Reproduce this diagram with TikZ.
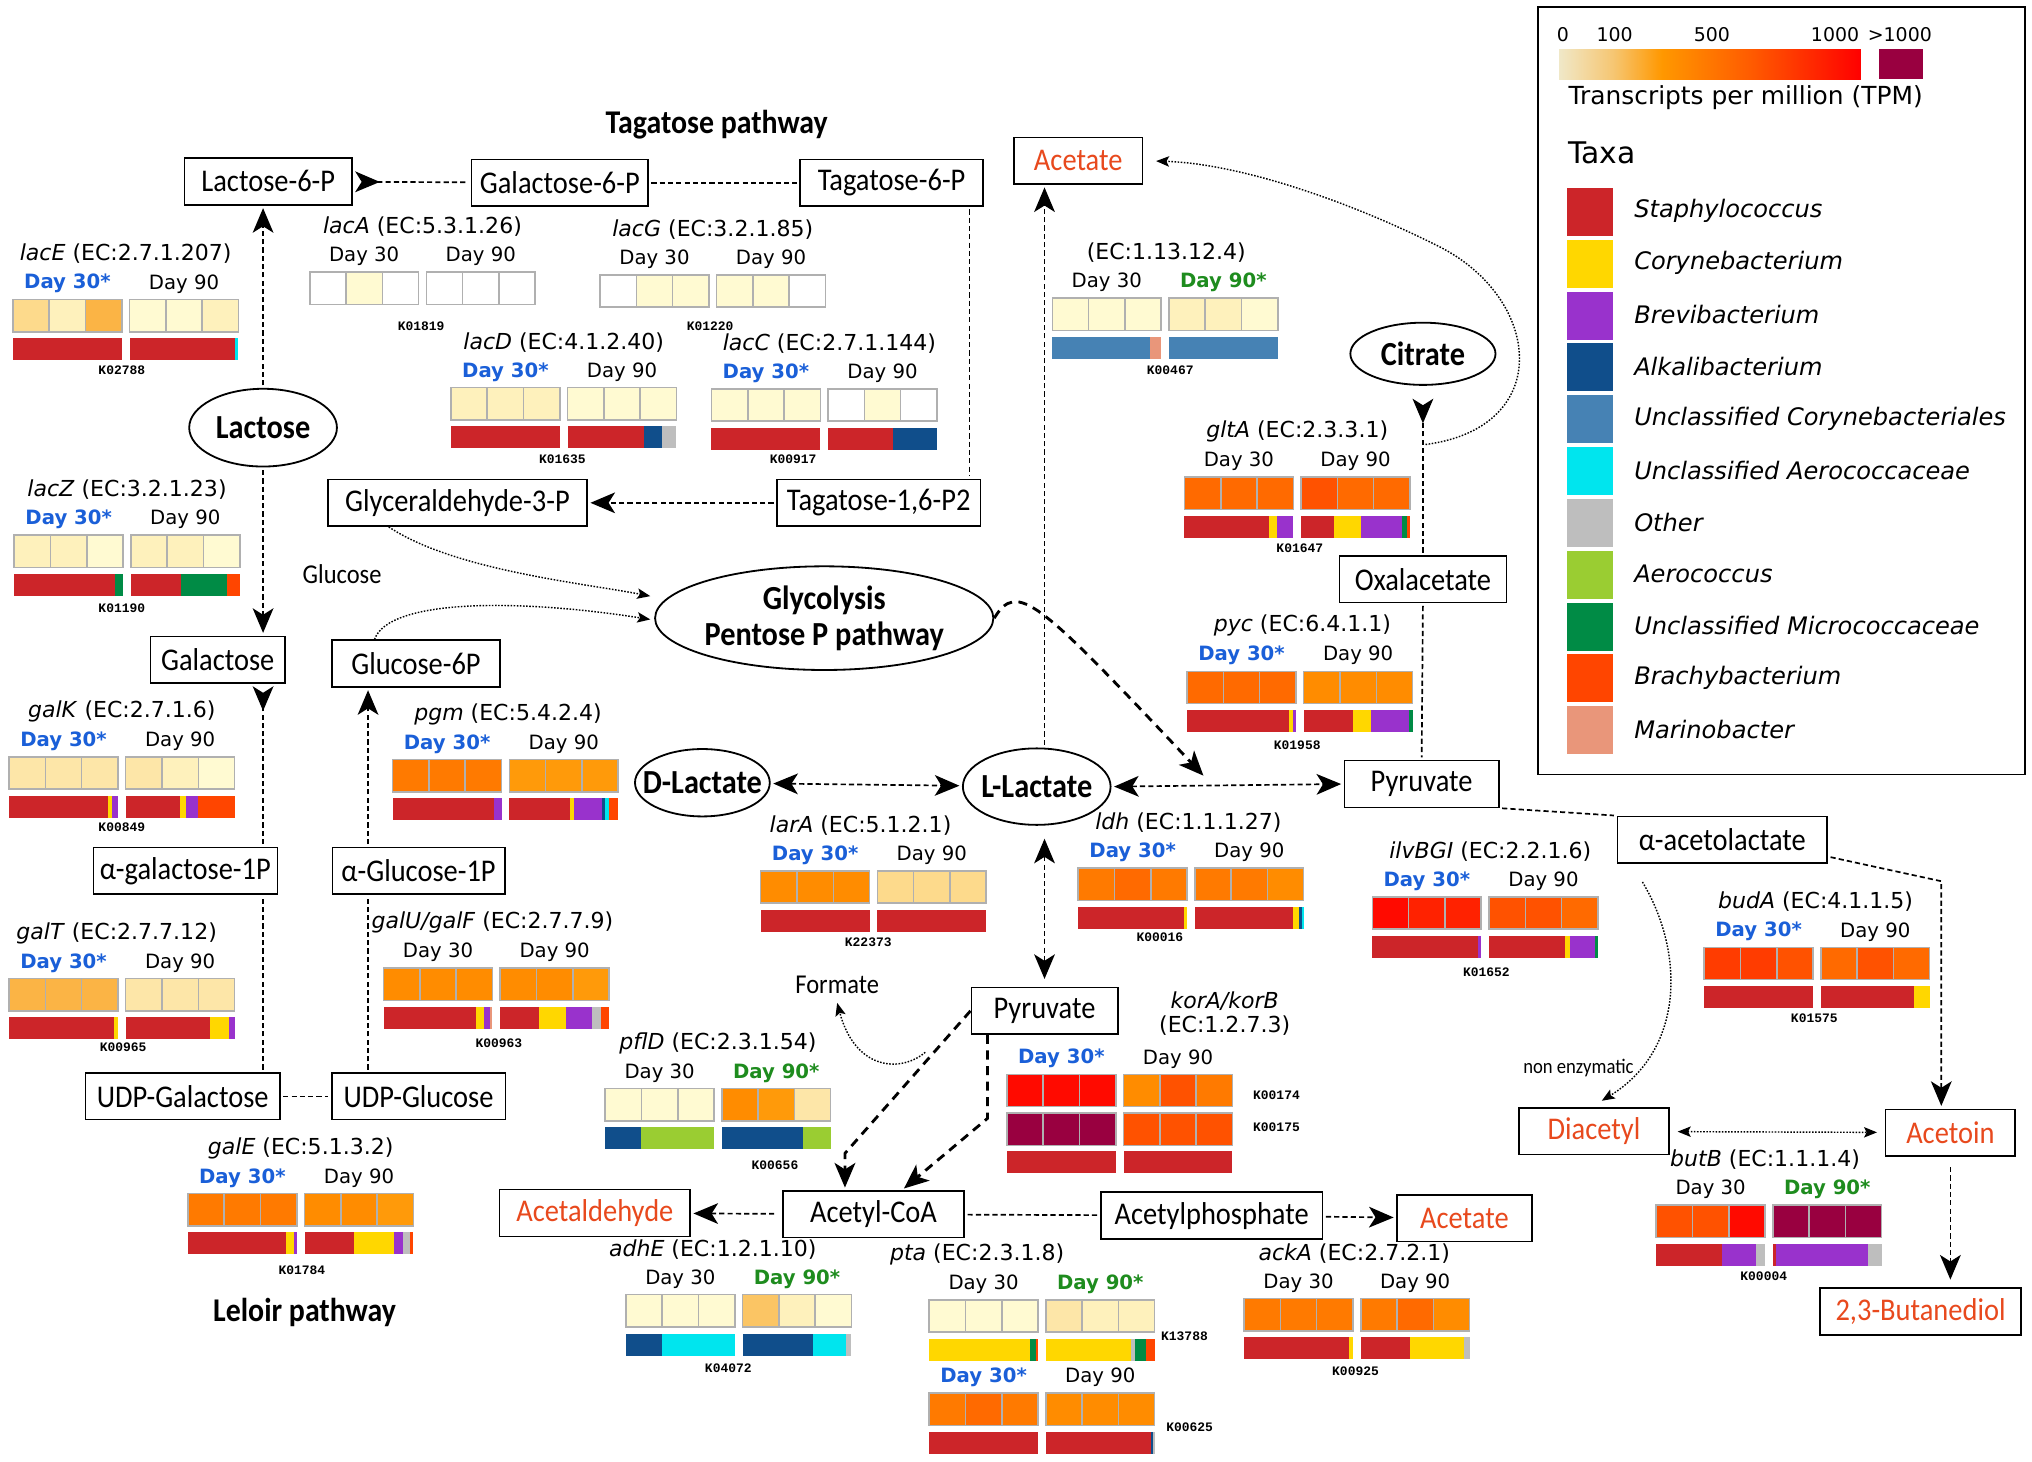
\documentclass[tikz,border=0pt]{standalone}
\usepackage{fontspec}
\setmainfont{DejaVu Sans}
\newfontfamily\boxfont{Carlito}[FakeStretch=0.9]
\newfontfamily\kfont{Liberation Mono}
\usetikzlibrary{arrows.meta,shapes.geometric,calc}

% taxa colours
\definecolor{st}{HTML}{CC2529}
\definecolor{co}{HTML}{FFD700}
\definecolor{br}{HTML}{9932CC}
\definecolor{al}{HTML}{104E8B}
\definecolor{uc}{HTML}{4682B4}
\definecolor{ua}{HTML}{00E5EE}
\definecolor{ot}{HTML}{BEBEBE}
\definecolor{ae}{HTML}{9ACD32}
\definecolor{um}{HTML}{008B45}
\definecolor{bb}{HTML}{FF4500}
\definecolor{ma}{HTML}{E9967A}
% TPM colours
\definecolor{h0}{HTML}{FFFFFF}
\definecolor{h1}{HTML}{FFFAD2}
\definecolor{h2}{HTML}{FEF1BC}
\definecolor{h3}{HTML}{FDE6A8}
\definecolor{h4}{HTML}{FDDA8C}
\definecolor{h5}{HTML}{FBC564}
\definecolor{h6}{HTML}{FBB445}
\definecolor{h7}{HTML}{FF9A0A}
\definecolor{h8}{HTML}{FF8C00}
\definecolor{h9}{HTML}{FF7A00}
\definecolor{h10}{HTML}{FF6A00}
\definecolor{h11}{HTML}{FF5200}
\definecolor{h12}{HTML}{FF3C00}
\definecolor{h13}{HTML}{FF2200}
\definecolor{h14}{HTML}{FF0A00}
\definecolor{hx}{HTML}{990040}
\definecolor{cellgray}{HTML}{B0B0B0}
\definecolor{prodred}{HTML}{E8491D}
\definecolor{sigblue}{HTML}{1A5FD8}
\definecolor{siggreen}{HTML}{1E8C1E}
\definecolor{sc0}{HTML}{F0E8C8}
\definecolor{sc1}{HTML}{F6C672}
\definecolor{sc2}{HTML}{FF9800}
\definecolor{sc3}{HTML}{FF5A00}
\definecolor{sc4}{HTML}{FF0000}
\pgfdeclarehorizontalshading{tpm}{100bp}{color(0bp)=(sc0); color(25bp)=(sc0); color(34bp)=(sc1); color(42bp)=(sc2); color(57bp)=(sc3); color(75bp)=(sc4); color(100bp)=(sc4)}

\tikzset{
  arr/.tip={Stealth[length=9.5pt,width=8pt,inset=2.5pt]},
  rarr/.tip={Stealth[length=9.5pt,width=8pt,inset=2.5pt,reversed]},
  sarr/.tip={Stealth[length=5pt,width=4pt,inset=1pt]}
}

% six TPM cells, two groups of three
\newcommand{\heatrow}[3]{%
  \foreach \hc [count=\hi from 0] in {#3}{%
    \pgfmathsetmacro{\cx}{#1+\hi*28+(\hi>2)*6}%
    \filldraw[fill=\hc, draw=cellgray, line width=0.6pt] (\cx,#2) rectangle ++(28,25);
  }%
}
% one taxa bar, segments as colour/cumulative end
\newcommand{\taxbar}[3]{%
  \foreach \tc/\te [remember=\te as \ts (initially 0)] in {#3}{%
    \fill[\tc] ({#1+\ts*84},#2) rectangle ({#1+\te*84},#2+17);
  }%
}
\newcommand{\gbars}[4]{\taxbar{#1}{#2}{#3}\taxbar{#1+90}{#2}{#4}}
% gene title and day labels
\newcommand{\genehead}[6]{%
  \node[eclabel] (#3-ec) at (#5,#2-35) {#6};
  \ifnum#4=30 \node[sigblue] (#3-d30) at (#1+42,#2-12) {Day 30*};
  \else \node[daylabel] (#3-d30) at (#1+42,#2-12) {Day 30}; \fi
  \ifnum#4=90 \node[siggreen] (#3-d90) at (#1+132,#2-12) {Day 90*};
  \else \node[daylabel] (#3-d90) at (#1+132,#2-12) {Day 90}; \fi
}

\begin{document}
\begin{tikzpicture}[x=0.5pt, y=-0.5pt,
    met/.style={draw, line width=0.6pt, font=\boxfont\fontsize{12.2}{13}\selectfont, minimum height=18pt, inner sep=1pt},
    prod/.style={met, text=prodred},
    hub/.style={draw, ellipse, line width=0.7pt, inner sep=0pt, align=center, font=\boxfont\bfseries\fontsize{13}{14}\selectfont},
    title/.style={font=\boxfont\bfseries\fontsize{12.8}{13}\selectfont},
    note/.style={font=\boxfont\fontsize{10.5}{11}\selectfont},
    eclabel/.style={font=\fontsize{8.5}{9.5}\selectfont, align=center},
    daylabel/.style={font=\fontsize{7.6}{8}\selectfont},
    sigblue/.style={font=\bfseries\fontsize{7.6}{8}\selectfont, text=sigblue},
    siggreen/.style={font=\bfseries\fontsize{7.6}{8}\selectfont, text=siggreen},
    kid/.style={font=\kfont\bfseries\fontsize{5}{6}\selectfont},
    legtxt/.style={font=\fontsize{9.6}{10}\selectfont},
    scl/.style={font=\fontsize{7.3}{8}\selectfont},
    taxon/.style={anchor=west, font=\itshape\fontsize{9.3}{10}\selectfont},
    flow/.style={line width=0.65pt, dash pattern=on 2pt off 1.2pt, shorten <=1pt, shorten >=1pt},
    heavy/.style={line width=1.1pt, dash pattern=on 3.5pt off 2.5pt, shorten >=1pt},
    dots/.style={line width=0.55pt, dash pattern=on 0.6pt off 0.6pt}
]
\useasboundingbox (0,0) rectangle (1568,1128);
\fill[white] (0,0) rectangle (1568,1128);

% metabolites
\node[title] (tagt) at (553,96) {Tagatose pathway};
\node[met, minimum width=64.5pt] (l6p) at (207,140) {Lactose-6-P};
\node[met, minimum width=68pt] (g6p) at (432,141) {Galactose-6-P};
\node[met, minimum width=70.5pt] (t6p) at (688,141) {Tagatose-6-P};
\node[hub, minimum width=57pt, minimum height=30pt] (lac) at (203,330) {Lactose};
\node[met, minimum width=100pt] (gly3p) at (353,388) {Glyceraldehyde-3-P};
\node[met, minimum width=78.5pt] (t16p) at (678,388) {Tagatose-1,6-P2};
\node[note] (glcnote) at (264,443) {Glucose};
\node[hub, minimum width=130pt, minimum height=40pt] (glyc) at (636,477) {Glycolysis\\Pentose P pathway};
\node[met, minimum width=52pt] (gal) at (168,509) {Galactose};
\node[met, minimum width=65pt] (g6pb) at (321,512) {Glucose-6P};
\node[met, minimum width=71pt] (agal) at (143,672) {α-galactose-1P};
\node[met, minimum width=66.5pt] (aglc) at (323,672) {α-Glucose-1P};
\node[met, minimum width=75pt] (udpgal) at (141,846) {UDP-Galactose};
\node[met, minimum width=67pt] (udpglc) at (323,846) {UDP-Glucose};
\node[title] (leloir) at (235,1013) {Leloir pathway};
\node[hub, inner xsep=-6pt, minimum width=52pt, minimum height=26pt] (dlac) at (542,604) {D-Lactate};
\node[hub, inner xsep=-6pt, minimum width=57pt, minimum height=29.5pt] (llac) at (800,607) {L-Lactate};
\node[met, minimum width=59.5pt] (pyr) at (1097,605) {Pyruvate};
\node[met, minimum width=64.5pt] (oxa) at (1098,447) {Oxalacetate};
\node[prod, minimum width=49.5pt] (acet1) at (832,124) {Acetate};
\node[hub, minimum width=56pt, minimum height=24pt] (cit) at (1098,273) {Citrate};
\node[met, minimum width=81pt] (acl) at (1329,648) {α-acetolactate};
\node[met, minimum width=56.5pt] (pyr2) at (806,780) {Pyruvate};
\node[note] (form) at (646,760) {Formate};
\node[met, minimum width=70pt] (acoa) at (674,937) {Acetyl-CoA};
\node[prod, minimum width=73.5pt] (acald) at (459,936) {Acetaldehyde};
\node[met, minimum width=85.5pt] (acp) at (935,938) {Acetylphosphate};
\node[prod, minimum width=52pt] (acet2) at (1130,940) {Acetate};
\node[prod, minimum width=58pt] (diac) at (1230,873) {Diacetyl};
\node[prod, minimum width=50pt] (acn) at (1505,874) {Acetoin};
\node[prod, minimum width=77.5pt] (bdo) at (1482,1012) {2,3-Butanediol};
\node[note, font=\boxfont\fontsize{8}{9}\selectfont] (nonenz) at (1218,824) {non enzymatic};

\coordinate (tagx) at (748,0);
\coordinate (glcx) at (284,0);
\coordinate (accx) at (806,0);
\coordinate (jn) at (930,600);
\coordinate (cbranch) at (1100,343);
\coordinate (acbend) at (1498,680);
\coordinate (pa) at (652,890);
\coordinate (pb) at (762,863);
\coordinate (fstart) at (714,812);

% connectors
\draw[flow, {rarr}-] (l6p) -- (g6p);
\draw[flow] (g6p) -- (t6p);
\draw[flow] (t6p.south -| tagx) -- (t16p.north -| tagx);
\draw[flow, -{arr}] (t16p) -- (gly3p);
\draw[flow, -{arr}] (lac.north) -- (lac.north |- l6p.south);
\draw[flow, -{arr}] (lac.south) -- (lac.south |- gal.north);
\draw[flow, -{rarr}] (lac.south |- agal.north) -- (lac.south |- gal.south);
\draw[flow] (lac.south |- udpgal.north) -- (lac.south |- agal.south);
\draw[flow] (udpgal) -- (udpglc);
\draw[flow] (glcx |- udpglc.north) -- (glcx |- aglc.south);
\draw[flow, -{arr}] (glcx |- aglc.north) -- (glcx |- g6pb.south);
\draw[dots, -{sarr}] ($(gly3p.south)+(-53,0)$) .. controls (350,440) and (450,450) .. ($(glyc.west)+(-3,-17)$);
\draw[dots, -{sarr}] ($(g6pb.north)+(-32,0)$) .. controls (300,462) and (400,462) .. ($(glyc.west)+(-3,1)$);
\draw[heavy, -{arr}] (glyc.east) .. controls (785,448) and (800,462) .. (jn);
\draw[flow, {arr}-{arr}] (dlac) -- (llac);
\draw[flow, {arr}-{arr}] (llac.east) -- (pyr.west);
\draw[flow, -{arr}] (llac.north -| accx) -- (acet1.south -| accx);
\draw[flow, {arr}-{arr}, shorten <=5pt, shorten >=3pt] (llac.south -| accx) -- (pyr2.north -| accx);
\draw[flow, -{rarr}, shorten >=5pt] (oxa.north) -- (cit.south);
\draw[flow] (oxa.south) -- (pyr.north);
\draw[dots, -{sarr}, shorten >=5pt] (cbranch) .. controls (1200,330) and (1190,230) .. (1110,190) .. controls (1030,150) and (950,126) .. (acet1.east);
\draw[flow] (pyr.south east) -- (acl.north west);
\draw[flow, -{arr}] ($(acl.east)+(0,13)$) -- (acbend) -- (acbend |- acn.north);
\draw[dots, -{sarr}] ($(acl.south west)+(20,14)$) .. controls (1300,735) and (1300,810) .. ($(diac.north)+(6,-5)$);
\draw[dots, {sarr}-{sarr}, shorten <=3pt, shorten >=3pt] (diac) -- (acn);
\draw[flow, -{arr}, shorten <=4pt, shorten >=3pt] (acn.south) -- (acn.south |- bdo.north);
\draw[heavy, -{arr}] (pyr2.west) -- (pa) -- (pa |- acoa.north);
\draw[heavy, -{arr}] (pyr2.south -| pb) -- (pb) -- ($(acoa.north)+(22,0)$);
\draw[dots, -{sarr}] (fstart) .. controls (695,828) and (660,826) .. (form.south);
\draw[flow, -{arr}, shorten <=3pt] (acoa) -- (acald);
\draw[flow] (acoa) -- (acp);
\draw[flow, -{arr}] (acp) -- (acet2);

% lacE
\genehead{10}{231}{lacE}{30}{97}{\textit{lacE} (EC:2.7.1.207)}
\heatrow{10}{231}{h4,h2,h6,h1,h1,h2}
\gbars{10}{261}{st/1}{st/0.97,ua/1}
\node[kid] (k02788) at (94,286) {K02788};
% lacA
\genehead{239}{210}{lacA}{0}{326}{\textit{lacA} (EC:5.3.1.26)}
\heatrow{239}{210}{h0,h1,h0,h0,h0,h0}
\node[kid] (k01819) at (325,252) {K01819};
% lacG
\genehead{463}{212}{lacG}{0}{550}{\textit{lacG} (EC:3.2.1.85)}
\heatrow{463}{212}{h0,h1,h1,h1,h1,h0}
\node[kid] (k01220) at (548,252) {K01220};
% lacD
\genehead{348}{299}{lacD}{30}{435}{\textit{lacD} (EC:4.1.2.40)}
\heatrow{348}{299}{h2,h2,h2,h1,h1,h1}
\gbars{348}{329}{st/1}{st/0.7,al/0.87,ot/1}
\node[kid] (k01635) at (434,354) {K01635};
% lacC
\genehead{549}{300}{lacC}{30}{640}{\textit{lacC} (EC:2.7.1.144)}
\heatrow{549}{300}{h1,h1,h1,h0,h1,h0}
\gbars{549}{330}{st/1}{st/0.6,al/1}
\node[kid] (k00917) at (612,354) {K00917};
% lacZ
\genehead{11}{413}{lacZ}{30}{98}{\textit{lacZ} (EC:3.2.1.23)}
\heatrow{11}{413}{h2,h2,h1,h2,h2,h1}
\gbars{11}{443}{st/0.93,um/1}{st/0.46,um/0.88,bb/1}
\node[kid] (k01190) at (94,469) {K01190};
% galK
\genehead{7}{584}{galK}{30}{94}{\textit{galK} (EC:2.7.1.6)}
\heatrow{7}{584}{h3,h3,h3,h3,h2,h1}
\gbars{7}{614}{st/0.91,co/0.95,br/1}{st/0.5,co/0.55,br/0.66,bb/1}
\node[kid] (k00849) at (94,638) {K00849};
% galT
\genehead{7}{755}{galT}{30}{90}{\textit{galT} (EC:2.7.7.12)}
\heatrow{7}{755}{h6,h6,h6,h3,h3,h3}
\gbars{7}{785}{st/0.96,co/1}{st/0.77,co/0.95,br/1}
\node[kid] (k00965) at (95,808) {K00965};
% galE
\genehead{145}{921}{galE}{30}{232}{\textit{galE} (EC:5.1.3.2)}
\heatrow{145}{921}{h9,h9,h9,h8,h8,h7}
\gbars{145}{951}{st/0.9,co/0.97,br/1}{st/0.45,co/0.82,br/0.9,ot/0.97,bb/1}
\node[kid] (k01784) at (233,980) {K01784};
% pgm
\genehead{303}{586}{pgm}{30}{392}{\textit{pgm} (EC:5.4.2.4)}
\heatrow{303}{586}{h9,h9,h9,h7,h7,h7}
\gbars{303}{616}{st/0.93,br/1}{st/0.56,co/0.59,br/0.85,al/0.88,ua/0.92,bb/1}
% galU/galF
\genehead{296}{747}{galUF}{0}{380}{\textit{galU/galF} (EC:2.7.7.9)}
\heatrow{296}{747}{h8,h8,h8,h8,h8,h7}
\gbars{296}{777}{st/0.85,co/0.92,br/0.98,ma/1}{st/0.36,co/0.6,br/0.84,ot/0.93,bb/1}
\node[kid] (k00963) at (385,805) {K00963};
% pflD
\genehead{467}{840}{pflD}{90}{554}{\textit{pflD} (EC:2.3.1.54)}
\heatrow{467}{840}{h1,h1,h1,h8,h7,h3}
\gbars{467}{870}{al/0.33,ae/1}{al/0.75,ae/1}
\node[kid] (k00656) at (598,899) {K00656};
% adhE
\genehead{483}{999}{adhE}{90}{550}{\textit{adhE} (EC:1.2.1.10)}
\heatrow{483}{999}{h1,h1,h1,h5,h2,h1}
\gbars{483}{1029}{al/0.33,ua/1}{al/0.65,ua/0.95,ot/1}
\node[kid] (k04072) at (562,1056) {K04072};
% pta
\genehead{717}{1003}{pta}{90}{754}{\textit{pta} (EC:2.3.1.8)}
\heatrow{717}{1003}{h1,h1,h1,h3,h2,h2}
\gbars{717}{1033}{co/0.93,um/0.98,bb/1}{co/0.78,ot/0.82,um/0.92,bb/1}
\node[kid] (k13788) at (914,1031) {K13788};
\node[sigblue] (pta2-d30) at (759,1063) {Day 30*};
\node[daylabel] (pta2-d90) at (849,1063) {Day 90};
\heatrow{717}{1075}{h9,h10,h9,h8,h8,h8}
\gbars{717}{1105}{st/1}{st/0.97,al/0.985,ot/1}
\node[kid] (k00625) at (918,1101) {K00625};
% ackA
\genehead{960}{1002}{ackA}{0}{1045}{\textit{ackA} (EC:2.7.2.1)}
\heatrow{960}{1002}{h9,h9,h9,h9,h10,h8}
\gbars{960}{1032}{st/0.96,co/1}{st/0.45,co/0.95,ot/1}
\node[kid] (k00925) at (1046,1058) {K00925};
% korA/korB
\node[eclabel] (korab-ec) at (945,782) {\textit{korA/korB}\\(EC:1.2.7.3)};
\node[sigblue] (korab-d30) at (819,817) {Day 30*};
\node[daylabel] (korab-d90) at (909,817) {Day 90};
\heatrow{777}{829}{h14,h14,h14,h8,h11,h9}
\heatrow{777}{859}{hx,hx,hx,h11,h11,h11}
\gbars{777}{888}{st/1}{st/1}
\node[kid] (k00174) at (985,845) {K00174};
\node[kid] (k00175) at (985,870) {K00175};
% larA
\genehead{587}{672}{larA}{30}{664}{\textit{larA} (EC:5.1.2.1)}
\heatrow{587}{672}{h8,h8,h8,h4,h4,h4}
\gbars{587}{702}{st/1}{st/1}
\node[kid] (k22373) at (670,727) {K22373};
% ldh
\genehead{832}{670}{ldh}{30}{917}{\textit{ldh} (EC:1.1.1.27)}
\heatrow{832}{670}{h9,h10,h9,h9,h9,h8}
\gbars{832}{700}{st/0.97,co/1}{st/0.9,co/0.96,al/0.98,ua/1}
\node[kid] (k00016) at (895,723) {K00016};
% EC:1.13.12.4
\genehead{812}{230}{lox}{90}{900}{(EC:1.13.12.4)}
\heatrow{812}{230}{h1,h1,h1,h2,h2,h1}
\gbars{812}{260}{uc/0.9,ma/1}{uc/1}
\node[kid] (k00467) at (903,286) {K00467};
% gltA
\genehead{914}{368}{gltA}{0}{1001}{\textit{gltA} (EC:2.3.3.1)}
\heatrow{914}{368}{h10,h10,h10,h11,h10,h10}
\gbars{914}{398}{st/0.78,co/0.85,br/1}{st/0.3,co/0.55,br/0.93,um/0.97,bb/1}
\node[kid] (k01647) at (1003,423) {K01647};
% pyc
\genehead{916}{518}{pyc}{30}{1005}{\textit{pyc} (EC:6.4.1.1)}
\heatrow{916}{518}{h10,h10,h10,h8,h8,h8}
\gbars{916}{548}{st/0.94,co/0.97,br/1}{st/0.45,co/0.62,br/0.97,um/1}
\node[kid] (k01958) at (1001,575) {K01958};
% ilvBGI
\genehead{1059}{692}{ilvBGI}{30}{1150}{\textit{ilvBGI} (EC:2.2.1.6)}
\heatrow{1059}{692}{h14,h13,h13,h11,h11,h10}
\gbars{1059}{722}{st/0.97,br/1}{st/0.7,co/0.74,br/0.97,um/1}
\node[kid] (k01652) at (1147,750) {K01652};
% budA
\genehead{1315}{731}{budA}{30}{1401}{\textit{budA} (EC:4.1.1.5)}
\heatrow{1315}{731}{h12,h12,h11,h10,h11,h10}
\gbars{1315}{761}{st/1}{st/0.86,co/1}
\node[kid] (k01575) at (1400,786) {K01575};
% butB
\genehead{1278}{930}{butB}{90}{1362}{\textit{butB} (EC:1.1.1.4)}
\heatrow{1278}{930}{h11,h11,h14,hx,hx,hx}
\gbars{1278}{960}{st/0.6,br/0.92,ot/1}{st/0.03,br/0.87,ot/1}
\node[kid] (k00004) at (1361,985) {K00004};

% legend
\node[draw, line width=0.6pt, minimum width=188pt, minimum height=296pt, anchor=north west, inner sep=0pt] (legend) at (1186,5) {};
\node[scl] (s0) at (1206,27) {0};
\node[scl] (s100) at (1246,27) {100};
\node[scl] (s500) at (1321,27) {500};
\node[scl] (s1000) at (1416,27) {1000};
\node[scl] (smax) at (1466,27) {>1000};
\shade[shading=tpm] (1203,38) rectangle (1436,61);
\fill[hx] (1450,38) rectangle (1484,61);
\node[legtxt] (tpm) at (1347,75) {Transcripts per million (TPM)};
\node[anchor=west, font=\fontsize{11.5}{12}\selectfont] (taxa) at (1203,118) {Taxa};
\foreach \c/\t [count=\k from 0] in {st/Staphylococcus, co/Corynebacterium, br/Brevibacterium, al/Alkalibacterium, uc/Unclassified Corynebacteriales, ua/Unclassified Aerococcaceae, ot/Other, ae/Aerococcus, um/Unclassified Micrococcaceae, bb/Brachybacterium, ma/Marinobacter}{
  \fill[\c] (1209,145+\k*40) rectangle ++(36,37);
  \node[taxon] (tax\k) at (1254,163+\k*40) {\t};
}
\end{tikzpicture}
\end{document}
